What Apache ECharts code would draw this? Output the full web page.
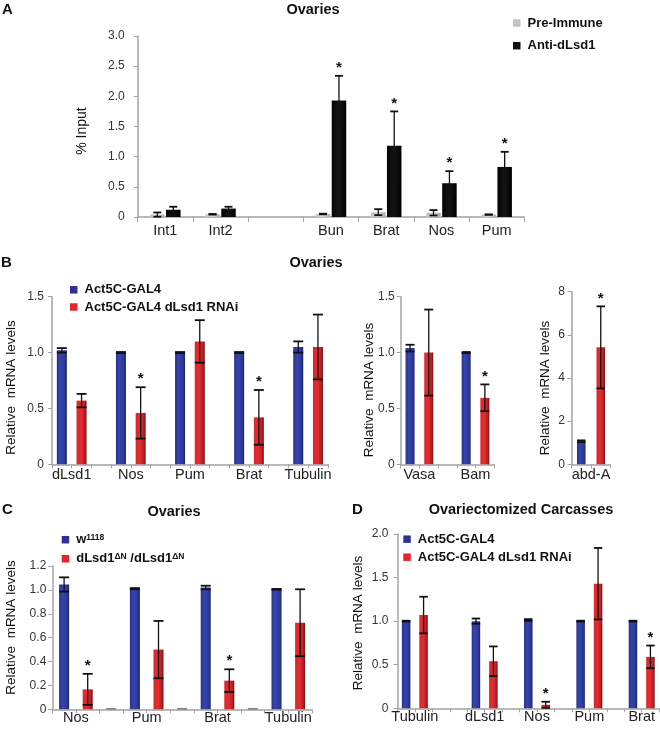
<!DOCTYPE html>
<html><head><meta charset="utf-8">
<script src="https://cdn.jsdelivr.net/npm/echarts@6/dist/echarts.min.js"></script>
<style>html,body{margin:0;padding:0;background:#fff}#c{width:660px;height:732px}</style>
</head><body><div id="c"></div>
<script>
// ---------- DATA ----------
// Panel A (ChIP, % input)
const aCats = ['Int1','Int2','','Bun','Brat','Nos','Pum'];
const aPre = [0.04,0.045,null,0.05,0.08,0.07,0.04];
const aPreErr = [0.035,0.005,null,0.005,0.05,0.045,0.004];
const aAnti = [0.12,0.14,null,1.93,1.18,0.56,0.83];
const aAntiErr = [0.05,0.03,null,0.41,0.57,0.20,0.25];
const aStar = [0,0,0,1,1,1,1];
const aTicks = [0,0.5,1.0,1.5,2.0,2.5,3.0];

// Panel B (ovaries, RNAi)
const b1Genes = ['dLsd1','Nos','Pum','Brat','Tubulin'];
const b1Ctrl = [1.02,1.0,1.0,1.0,1.05];
const b1CtrlErr = [0.02,0.005,0.005,0.005,0.05];
const b1Rnai = [0.57,0.46,1.10,0.42,1.05];
const b1RnaiErr = [0.06,0.23,0.19,0.245,0.29];
const b1Star = [0,1,0,1,0];

const b2Genes = ['Vasa','Bam'];
const b2Ctrl = [1.04,1.0];
const b2CtrlErr = [0.03,0.005];
const b2Rnai = [1.0,0.595];
const b2RnaiErr = [0.385,0.12];
const b2Star = [0,1];

const b3Genes = ['abd-A'];
const b3Ctrl = [1.07];
const b3CtrlErr = [0.04];
const b3Rnai = [5.42];
const b3RnaiErr = [1.9];
const b3Star = [1];

// Panel C (ovaries, mutant)
const cGenes = ['Nos','Pum','Brat','Tubulin'];
const cWt = [1.045,1.01,1.02,1.005];
const cWtErr = [0.06,0.005,0.015,0.003];
const cMut = [0.167,0.50,0.24,0.725];
const cMutErr = [0.13,0.24,0.095,0.28];
const cStar = [1,0,1,0];
const cGapMarks = [0.008,0.008,0.008];

// Panel D (ovariectomized carcasses)
const dGenes = ['Tubulin','dLsd1','Nos','Pum','Brat'];
const dCtrl = [1.0,1.0,1.013,1.0,1.0];
const dCtrlErr = [0.005,0.03,0.01,0.005,0.005];
const dRnai = [1.07,0.54,0.04,1.43,0.59];
const dRnaiErr = [0.21,0.17,0.035,0.41,0.13];
const dStar = [0,0,1,0,1];

const nameCtrl = 'Act5C-GAL4';
const nameRnai = 'Act5C-GAL4 dLsd1 RNAi';
const nameWt = 'w1118';
const nameMut = 'dLsd1ΔN /dLsd1ΔN';

// ---------- STYLE / LAYOUT ----------
const FONT = '"Liberation Sans", Arial, sans-serif';
const AXC = '#a3a3a3';
const TXT = '#222';
const blueFill = () => new echarts.graphic.LinearGradient(0,0,1,0,[
  {offset:0,color:'#27318a'},{offset:0.35,color:'#3645ad'},{offset:0.8,color:'#2b3896'},{offset:1,color:'#1b2266'}]);
const redFill = () => new echarts.graphic.LinearGradient(0,0,1,0,[
  {offset:0,color:'#d9272c'},{offset:0.45,color:'#e32c30'},{offset:0.8,color:'#b81f24'},{offset:1,color:'#6e1315'}]);
const grayFill = () => new echarts.graphic.LinearGradient(0,0,1,0,[
  {offset:0,color:'#c4c4c4'},{offset:0.5,color:'#d2d2d2'},{offset:1,color:'#a9a9a9'}]);
const blackFill = () => new echarts.graphic.LinearGradient(0,0,1,0,[
  {offset:0,color:'#050505'},{offset:0.5,color:'#151515'},{offset:1,color:'#000'}]);

const chart = echarts.init(document.getElementById('c'), null, {renderer:'canvas'});

const grids = [], xAxes = [], yAxes = [], series = [];

function errSeries(xi, yi, items, cap, offset) {
  return {
    type:'custom', xAxisIndex:xi, yAxisIndex:yi, z:5, silent:true, clip:false,
    encode:{x:0,y:1},
    data: items,
    renderItem: function(params, api) {
      const s = api.value(0), v = api.value(1), e = api.value(2), st = api.value(3);
      const top = api.coord([s, v + e]);
      const bot = api.coord([s, Math.max(v - e, 0)]);
      const x = top[0] + offset;
      const st1 = {stroke:'#111', lineWidth:1.3};
      const st2 = {stroke:'#111', lineWidth:1.8};
      const ch = [
        {type:'line', shape:{x1:x,y1:top[1],x2:x,y2:bot[1]}, style:st1},
        {type:'line', shape:{x1:x-cap,y1:top[1],x2:x+cap,y2:top[1]}, style:st2},
        {type:'line', shape:{x1:x-cap,y1:bot[1],x2:x+cap,y2:bot[1]}, style:st2}
      ];
      if (st) ch.push({type:'text', style:{text:'*', x:x, y:top[1]-8, textAlign:'center', textVerticalAlign:'middle',
        font:'bold 15px ' + FONT, fill:'#111'}});
      return {type:'group', children:ch};
    }
  };
}

function yAxisCfg(gi, max, interval, fmt, margin) {
  return {type:'value', gridIndex:gi, position:'left', min:0, max:max, interval:interval,
    axisLine:{show:true, lineStyle:{color:AXC, width:1.5}},
    axisTick:{show:true, inside:false, length:4, lineStyle:{color:AXC}},
    splitLine:{show:false},
    axisLabel:{show:true, margin:margin, formatter:fmt, fontSize:12, fontFamily:FONT, color:'#333'}};
}
const fmt1 = v => v === 0 ? '0' : v.toFixed(1);
const fmt0 = v => String(v);

// ---- Panel A ----
grids.push({left:137.7, top:36, width:386.6, height:181, containLabel:false, outerBoundsMode:'none'});
xAxes.push({type:'category', gridIndex:0, position:'bottom', data:aCats, boundaryGap:true,
  axisLine:{show:true, onZero:false, lineStyle:{color:AXC, width:1.5}},
  axisTick:{show:true, interval:0, length:5, lineStyle:{color:AXC}},
  axisLabel:{interval:0, margin:6, fontSize:14.5, fontFamily:FONT, color:TXT}});
yAxes.push(yAxisCfg(0, 3, 0.5, fmt1, 13));
series.push({name:'Pre-Immune', type:'bar', xAxisIndex:0, yAxisIndex:0, barWidth:14.5, barGap:'10%',
  data:aPre.map(v => v === null ? '-' : v), itemStyle:{color:grayFill()}});
series.push({name:'Anti-dLsd1', type:'bar', xAxisIndex:0, yAxisIndex:0, barWidth:14.5, barGap:'10%',
  data:aAnti.map(v => v === null ? '-' : v), itemStyle:{color:blackFill()}});
const aPreItems = [], aAntiItems = [];
aCats.forEach((c,i) => {
  if (aPre[i] !== null) aPreItems.push([i, aPre[i], aPreErr[i], 0]);
  if (aAnti[i] !== null) aAntiItems.push([i, aAnti[i], aAntiErr[i], aStar[i]]);
});
series.push(errSeries(0, 0, aPreItems, 4, -7.98));
series.push(errSeries(0, 0, aAntiItems, 4, 7.98));

// ---- Generic paired panels ----
function pairedPanel(cfg) {
  const gi = grids.length;
  grids.push({left:cfg.left, top:cfg.top, width:cfg.slotW * cfg.N, height:cfg.height, containLabel:false, outerBoundsMode:'none'});
  const slotCats = Array.from({length:cfg.N}, (_, i) => 's' + i);
  const xi = xAxes.length;
  xAxes.push({type:'category', gridIndex:gi, position:'bottom', data:slotCats, boundaryGap:true,
    axisLine:{show:true, onZero:false, lineStyle:{color:AXC, width:1.5}},
    axisTick:{show:true, interval:0, length:4, lineStyle:{color:AXC}},
    axisLabel:{show:false}});
  const labCats = Array.from({length:cfg.N + 1}, () => '');
  cfg.slots.forEach((s, k) => { labCats[s + 1] = cfg.genes[k]; });
  xAxes.push({type:'category', gridIndex:gi, position:'bottom', offset:0, data:labCats, boundaryGap:false,
    axisLine:{show:false, onZero:false}, axisTick:{show:false},
    axisLabel:{interval:0, margin:cfg.labelMargin, fontSize:14.5, fontFamily:FONT, color:TXT}});
  const yi = yAxes.length;
  yAxes.push(yAxisCfg(gi, cfg.ymax, cfg.yint, cfg.fmt, cfg.ylabMargin));
  const bData = Array(cfg.N).fill('-'), rData = Array(cfg.N).fill('-');
  const bItems = [], rItems = [];
  cfg.slots.forEach((s, k) => {
    bData[s] = cfg.ctrl[k]; rData[s + 1] = cfg.trt[k];
    bItems.push([s, cfg.ctrl[k], cfg.ctrlErr[k], 0]);
    rItems.push([s + 1, cfg.trt[k], cfg.trtErr[k], cfg.star[k]]);
  });
  if (cfg.gapMarks) {
    const gData = Array(cfg.N).fill('-');
    cfg.gapSlots.forEach((s, k) => { gData[s] = cfg.gapMarks[k]; });
    series.push({name:'gap', type:'bar', xAxisIndex:xi, yAxisIndex:yi, barWidth:cfg.barW, barGap:'-100%',
      data:gData, itemStyle:{color:'#444'}});
  }
  series.push({name:cfg.nameA, type:'bar', xAxisIndex:xi, yAxisIndex:yi, barWidth:cfg.barW, barGap:'-100%',
    data:bData, itemStyle:{color:blueFill()}});
  series.push({name:cfg.nameB, type:'bar', xAxisIndex:xi, yAxisIndex:yi, barWidth:cfg.barW, barGap:'-100%',
    data:rData, itemStyle:{color:redFill()}});
  series.push(errSeries(xi, yi, bItems, cfg.barW / 2, 0));
  series.push(errSeries(xi, yi, rItems, cfg.barW / 2, 0));
}

pairedPanel({left:52, top:296.7, height:167.6, slotW:19.7, N:14, slots:[0,3,6,9,12], genes:b1Genes,
  ctrl:b1Ctrl, ctrlErr:b1CtrlErr, trt:b1Rnai, trtErr:b1RnaiErr, star:b1Star, ymax:1.5, yint:0.5, fmt:fmt1,
  barW:10, labelMargin:3, ylabMargin:8, nameA:nameCtrl, nameB:nameRnai});
pairedPanel({left:400.7, top:296.7, height:167.6, slotW:18.7, N:5, slots:[0,3], genes:b2Genes,
  ctrl:b2Ctrl, ctrlErr:b2CtrlErr, trt:b2Rnai, trtErr:b2RnaiErr, star:b2Star, ymax:1.5, yint:0.5, fmt:fmt1,
  barW:9, labelMargin:3, ylabMargin:6, nameA:nameCtrl, nameB:nameRnai});
pairedPanel({left:571.5, top:291.7, height:172.6, slotW:19.5, N:2, slots:[0], genes:b3Genes,
  ctrl:b3Ctrl, ctrlErr:b3CtrlErr, trt:b3Rnai, trtErr:b3RnaiErr, star:b3Star, ymax:8, yint:2, fmt:fmt0,
  barW:8.5, labelMargin:3, ylabMargin:6.5, nameA:nameCtrl, nameB:nameRnai});
pairedPanel({left:52.3, top:566, height:143.3, slotW:23.6, N:11, slots:[0,3,6,9], genes:cGenes,
  ctrl:cWt, ctrlErr:cWtErr, trt:cMut, trtErr:cMutErr, star:cStar, ymax:1.2, yint:0.2, fmt:fmt1,
  barW:10, labelMargin:1.5, ylabMargin:6, nameA:nameWt, nameB:nameMut, gapMarks:cGapMarks, gapSlots:[2,5,8]});
pairedPanel({left:397.4, top:534, height:174.3, slotW:17.45, N:15, slots:[0,4,7,10,13], genes:dGenes,
  ctrl:dCtrl, ctrlErr:dCtrlErr, trt:dRnai, trtErr:dRnaiErr, star:dStar, ymax:2.0, yint:0.5, fmt:fmt1,
  barW:8.5, labelMargin:1.5, ylabMargin:9, nameA:nameCtrl, nameB:nameRnai});

// ---------- LEGENDS ----------
const legText = {fontSize:13, fontWeight:'bold', fontFamily:FONT, color:'#111', lineHeight:14, padding:[0,0,0,2]};
function legend(left, top, gap, items, extra) {
  return Object.assign({show:true, orient:'vertical', left:left, top:top, itemWidth:7.5, itemHeight:7.5,
    itemGap:gap, icon:'rect', selectedMode:false, padding:0, textStyle:legText,
    data:items.map(it => ({name:it[0], itemStyle:{color:it[1]}}))}, extra || {});
}
const legends = [
  legend(513, 16, 8.7, [['Pre-Immune','#c3c3c3'],['Anti-dLsd1','#111']]),
  legend(70, 282.8, 3.2, [[nameCtrl,'#2e3192'],[nameRnai,'#e3262c']]),
  legend(61.7, 532.7, 5.1, [[nameWt,'#2e3192'],[nameMut,'#e3262c']], {
    formatter: n => n === nameWt ? 'w{s|1118}' : 'dLsd1{s|ΔN} /dLsd1{s|ΔN}',
    textStyle:Object.assign({}, legText, {rich:{s:{fontSize:8.5, fontWeight:'bold', fontFamily:FONT, color:'#111',
      verticalAlign:'top', lineHeight:8}}})}),
  legend(403.3, 532.2, 4, [[nameCtrl,'#2e3192'],[nameRnai,'#e3262c']])
];

// ---------- TEXT ----------
function txt(x, y, s, font, align, rot) {
  return {type:'text', x:x, y:y, rotation:rot || 0, silent:true,
    style:{text:s, font:font, fill:'#111', textAlign:align || 'center', textVerticalAlign:'middle'}};
}
const TF = 'bold 14.5px ' + FONT, LF = 'bold 15px ' + FONT, YF = '13.5px ' + FONT;
const graphics = [
  txt(2, 10, 'A', LF, 'left'), txt(313, 10, 'Ovaries', TF),
  txt(1, 263, 'B', LF, 'left'), txt(316, 263, 'Ovaries', TF),
  txt(2, 510, 'C', LF, 'left'), txt(174, 511.5, 'Ovaries', TF),
  txt(352, 510, 'D', LF, 'left'), txt(521, 510, 'Ovariectomized Carcasses', TF),
  txt(82, 131, '% Input', '14px ' + FONT, 'center', Math.PI/2),
  txt(11.5, 387.5, 'Relative  mRNA levels', YF, 'center', Math.PI/2),
  txt(369.2, 390, 'Relative  mRNA levels', YF, 'center', Math.PI/2),
  txt(544.8, 388, 'Relative  mRNA levels', YF, 'center', Math.PI/2),
  txt(11.5, 627.5, 'Relative  mRNA levels', YF, 'center', Math.PI/2),
  txt(358.2, 623, 'Relative  mRNA levels', YF, 'center', Math.PI/2)
];

chart.setOption({
  animation:false,
  backgroundColor:'#fff',
  grid:grids, xAxis:xAxes, yAxis:yAxes, series:series,
  legend:legends,
  graphic:graphics
});
</script></body></html>
